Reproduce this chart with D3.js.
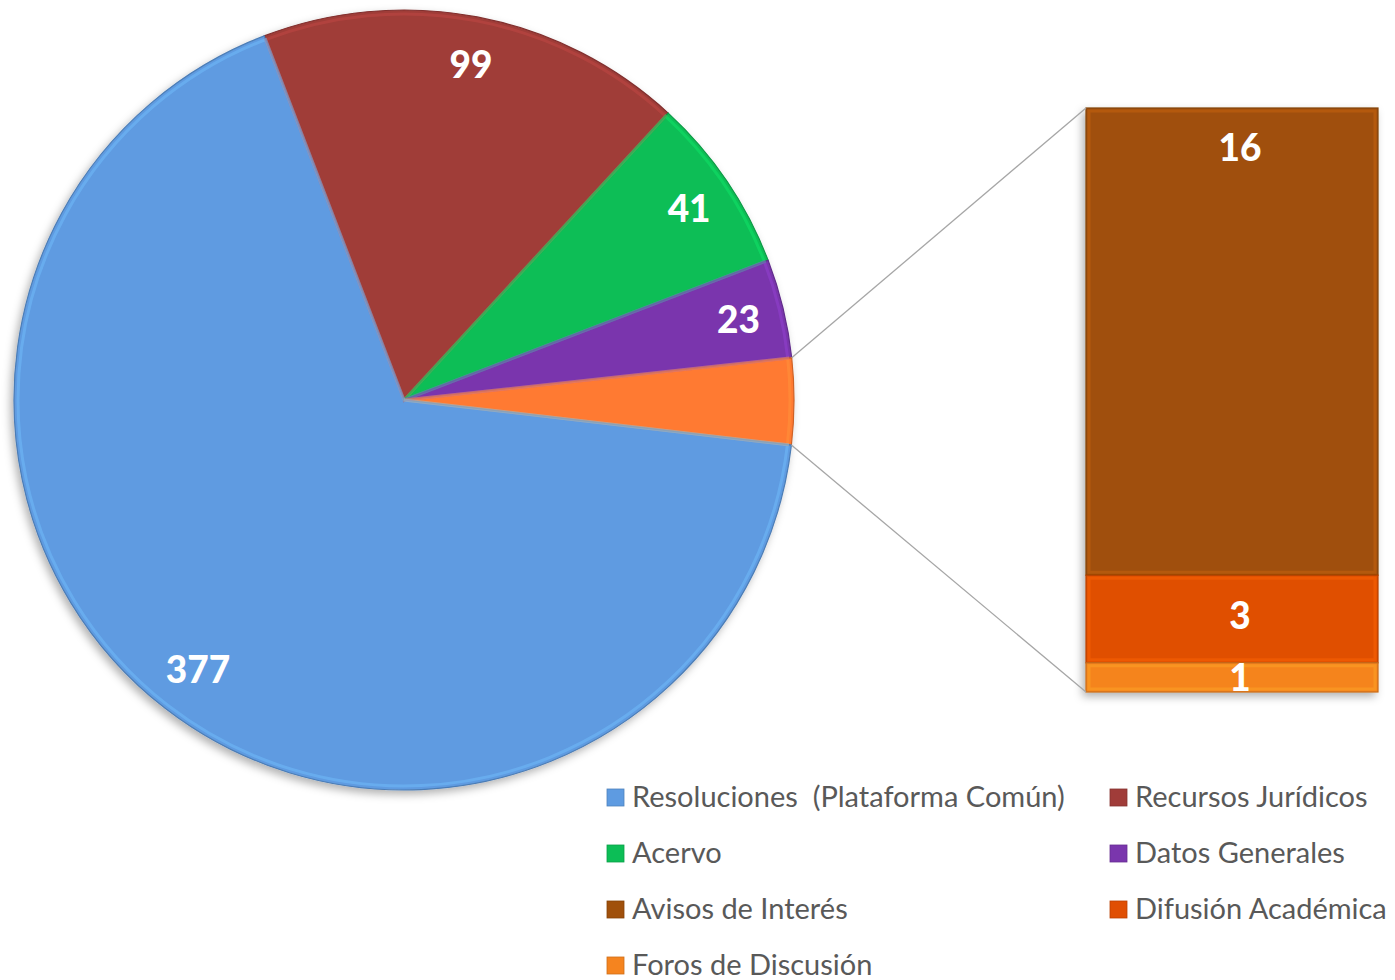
<!DOCTYPE html>
<html>
<head>
<meta charset="utf-8">
<script src="https://cdn.jsdelivr.net/npm/d3@7/dist/d3.min.js"></script>
<style>
  body { margin: 0; background: #fff; }
  svg { display: block; }
</style>
</head>
<body>
<svg id="chart" width="1395" height="980"></svg>
<script>
// categories, in legend order
var categories = [
  'Resoluciones  (Plataforma Común)', 'Recursos Jurídicos',
  'Acervo', 'Datos Generales',
  'Avisos de Interés', 'Difusión Académica',
  'Foros de Discusión'
];
var values = [377, 99, 41, 23, 16, 3, 1];
var colors = ['#5E9BE1', '#A03C39', '#0CBE56', '#7A36AD', '#A0500B', '#E04F03', '#F5841F'];

// pie slices (drawn clockwise from the top-left), the last one is "other"
var pieOrder = [1, 2, 3, 'other', 0];
var otherColor = '#FF7A30';
// the split-out bar, from top to bottom
var barOrder = [4, 5, 6];

var svg = d3.select('#chart');

// drop shadow
var defs = svg.append('defs');
var shadow = defs.append('filter')
  .attr('id', 'shadow')
  .attr('x', '-10%').attr('y', '-10%')
  .attr('width', '130%').attr('height', '130%');
shadow.append('feDropShadow')
  .attr('dx', -3).attr('dy', 4)
  .attr('stdDeviation', 4)
  .attr('flood-color', '#000')
  .attr('flood-opacity', 0.3);

var cx = 404, cy = 400, radius = 390;

var otherTotal = d3.sum(barOrder, function (i) { return values[i]; });

var pieData = pieOrder.map(function (k) {
  if (k === 'other') return { value: otherTotal, color: otherColor, label: null };
  return { value: values[k], color: colors[k], label: values[k] };
});

var pie = d3.pie()
  .sort(null)
  .value(function (d) { return d.value; })
  .startAngle(-21 * Math.PI / 180)
  .endAngle((360 - 21) * Math.PI / 180);

var arcs = pie(pieData);

var arc = d3.arc().innerRadius(0).outerRadius(radius);
var innerArc = d3.arc().innerRadius(0).outerRadius(radius - 4);
var labelArc = d3.arc().innerRadius(341).outerRadius(341);

var labelFont = 'Lato, "Open Sans", sans-serif';

var pieG = svg.append('g')
  .attr('transform', 'translate(' + cx + ',' + cy + ')');

pieG.append('g')
  .attr('filter', 'url(#shadow)')
  .selectAll('path')
  .data(arcs)
  .enter()
  .append('path')
  .attr('d', arc)
  .attr('fill', function (d) { return d.data.color; })
  .attr('stroke', function (d) { return d3.color(d.data.color).darker(0.6); })
  .attr('stroke-width', 1.2);

// soft bevel highlight along the edges
pieG.append('g')
  .selectAll('path')
  .data(arcs)
  .enter()
  .append('path')
  .attr('d', innerArc)
  .attr('fill', 'none')
  .attr('stroke', function (d) { return d3.color(d.data.color).brighter(0.6); })
  .attr('stroke-opacity', 0.45)
  .attr('stroke-width', 3);

// pie labels
pieG.append('g')
  .selectAll('text')
  .data(arcs.filter(function (d) { return d.data.label !== null; }))
  .enter()
  .append('text')
  .attr('transform', function (d) {
    var c = labelArc.centroid(d);
    return 'translate(' + (c[0] + 3) + ',' + c[1] + ')';
  })
  .attr('text-anchor', 'middle')
  .attr('dy', '0.36em')
  .attr('fill', '#fff')
  .style('font-family', labelFont)
  .style('font-weight', 900)
  .style('font-size', '37px')
  .text(function (d) { return d.data.label; });

// stacked bar for the split-out slice
var barX = 1086, barW = 292, barTop = 108, barBottom = 692;
var y = d3.scaleLinear().domain([0, otherTotal]).range([barTop, barBottom]);

var acc = 0;
var segs = barOrder.map(function (i) {
  var s = { value: values[i], color: colors[i], y0: acc, y1: acc + values[i] };
  acc += values[i];
  return s;
});

var barG = svg.append('g');

barG.append('g')
  .attr('filter', 'url(#shadow)')
  .selectAll('rect')
  .data(segs)
  .enter()
  .append('rect')
  .attr('x', barX)
  .attr('y', function (d) { return y(d.y0); })
  .attr('width', barW)
  .attr('height', function (d) { return y(d.y1) - y(d.y0); })
  .attr('fill', function (d) { return d.color; })
  .attr('stroke', function (d) { return d3.color(d.color).darker(0.6); })
  .attr('stroke-width', 1.2);

barG.append('g')
  .selectAll('rect')
  .data(segs)
  .enter()
  .append('rect')
  .attr('x', barX + 3)
  .attr('y', function (d) { return y(d.y0) + 3; })
  .attr('width', barW - 6)
  .attr('height', function (d) { return Math.max(0, y(d.y1) - y(d.y0) - 6); })
  .attr('fill', 'none')
  .attr('stroke', function (d) { return d3.color(d.color).brighter(0.7); })
  .attr('stroke-opacity', 0.45)
  .attr('stroke-width', 3);

barG.append('g')
  .selectAll('text')
  .data(segs)
  .enter()
  .append('text')
  .attr('x', barX + barW / 2 + 8)
  .attr('y', function (d) {
    return Math.min((y(d.y0) + y(d.y1)) / 2, y(d.y0) + 40);
  })
  .attr('text-anchor', 'middle')
  .attr('dy', '0.36em')
  .attr('fill', '#fff')
  .style('font-family', labelFont)
  .style('font-weight', 900)
  .style('font-size', '37px')
  .text(function (d) { return d.value; });

// connector lines
var a0 = arcs[3].startAngle, a1 = arcs[3].endAngle;
var lines = [
  [cx + radius * Math.sin(a0), cy - radius * Math.cos(a0), barX, barTop],
  [cx + radius * Math.sin(a1), cy - radius * Math.cos(a1), barX, barBottom]
];
svg.append('g')
  .selectAll('line')
  .data(lines)
  .enter()
  .append('line')
  .attr('x1', function (d) { return d[0]; })
  .attr('y1', function (d) { return d[1]; })
  .attr('x2', function (d) { return d[2]; })
  .attr('y2', function (d) { return d[3]; })
  .attr('stroke', '#A6A6A6')
  .attr('stroke-width', 1.3);

// legend, two columns
var legend = svg.append('g');
var item = legend.selectAll('g')
  .data(categories)
  .enter()
  .append('g')
  .attr('transform', function (d, i) {
    var col = i % 2, row = Math.floor(i / 2);
    return 'translate(' + (col ? 1110 : 607) + ',' + (797 + row * 56) + ')';
  });

item.append('rect')
  .attr('x', 0)
  .attr('y', -8)
  .attr('width', 17)
  .attr('height', 17)
  .attr('fill', function (d, i) { return colors[i]; })
  .attr('stroke', function (d, i) { return d3.color(colors[i]).darker(0.5); })
  .attr('stroke-width', 0.8);

item.append('text')
  .attr('x', 25)
  .attr('dy', '0.36em')
  .attr('fill', '#595959')
  .style('font-family', 'Lato, "Open Sans", sans-serif')
  .style('font-size', '29px')
  .style('white-space', 'pre')
  .text(function (d) { return d; });
</script>
</body>
</html>
